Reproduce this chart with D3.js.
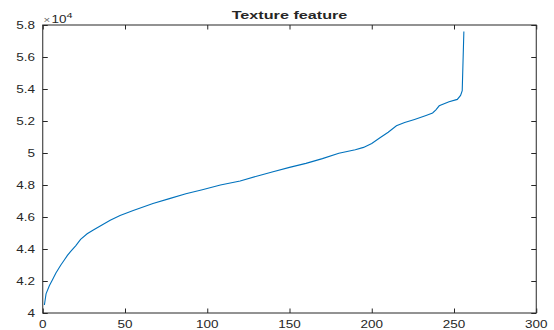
<!DOCTYPE html>
<html>
<head>
<meta charset="utf-8">
<script src="https://cdn.jsdelivr.net/npm/d3@7"></script>
<style>
  body { margin: 0; background: #fff; }
  text { font-family: "Liberation Sans", Arial, Helvetica, sans-serif; fill: #262626; }
</style>
</head>
<body>
<div id="app"></div>
<script>
var svgWidth = 554, svgHeight = 330;
var margin = { top: 25, right: 17.75, bottom: 17, left: 42.75 };
var planeWidth = svgWidth - margin.left - margin.right;
var planeHeight = svgHeight - margin.top - margin.bottom;

// data (index, value)
var xIndex = [1, 2, 4, 6, 8, 11, 13, 15, 17, 20, 23, 27, 31, 36, 41, 47, 55, 67, 77, 87, 97, 108, 120, 130,
              140, 150, 160, 170, 180, 190, 195, 200, 205, 210, 215, 220, 226, 233, 237, 239, 241, 247, 252, 254, 255, 256];
var featureValue = [40500, 41200, 41700, 42100, 42500, 43000, 43300, 43600, 43850, 44200, 44600, 44950, 45200, 45500,
              45800, 46100, 46400, 46850, 47150, 47450, 47700, 48000, 48250, 48550, 48830, 49100, 49350, 49650, 49980,
              50200, 50350, 50600, 50950, 51300, 51700, 51900, 52100, 52350, 52500, 52700, 52950, 53200, 53350, 53600,
              53900, 57600];
var xTicks = [0, 50, 100, 150, 200, 250, 300];
var yTicks = [40000, 42000, 44000, 46000, 48000, 50000, 52000, 54000, 56000, 58000];
var yTickLabels = ["4", "4.2", "4.4", "4.6", "4.8", "5", "5.2", "5.4", "5.6", "5.8"];

var axisColor = "#262626", lineColor = "#0072BD", stretch = 1.35;

var svg = d3.select("#app").append("svg")
    .attr("width", svgWidth)
    .attr("height", svgHeight);

var x = d3.scaleLinear().domain([0, 300]).range([margin.left, margin.left + planeWidth]);
var y = d3.scaleLinear().domain([40000, 58000]).range([margin.top + planeHeight, margin.top]);

// line
var line = d3.line().x(function(d, i) { return x(xIndex[i]); }).y(function(d) { return y(d); });
svg.append("path")
    .datum(featureValue)
    .attr("d", line)
    .attr("fill", "none")
    .attr("stroke", lineColor)
    .attr("stroke-width", 1.1);

// ticks, pointing inside, on all four sides
function tickStyle(g) {
    g.select(".domain").remove();
    g.selectAll("line").attr("stroke", axisColor);
}
svg.append("g").attr("transform", "translate(0," + y.range()[0] + ")")
    .call(d3.axisBottom(x).tickValues(xTicks).tickFormat("").tickSizeInner(-4.5).tickSizeOuter(0)).call(tickStyle);
svg.append("g").attr("transform", "translate(0," + y.range()[1] + ")")
    .call(d3.axisTop(x).tickValues(xTicks).tickFormat("").tickSizeInner(-4.5).tickSizeOuter(0)).call(tickStyle);
svg.append("g").attr("transform", "translate(" + x.range()[0] + ",0)")
    .call(d3.axisLeft(y).tickValues(yTicks).tickFormat("").tickSizeInner(-5).tickSizeOuter(0)).call(tickStyle);
svg.append("g").attr("transform", "translate(" + x.range()[1] + ",0)")
    .call(d3.axisRight(y).tickValues(yTicks).tickFormat("").tickSizeInner(-5).tickSizeOuter(0)).call(tickStyle);

// box
svg.append("rect")
    .attr("x", x.range()[0]).attr("y", y.range()[1])
    .attr("width", planeWidth).attr("height", planeHeight)
    .attr("fill", "none").attr("stroke", axisColor).attr("stroke-width", 1);

// tick labels (text is a bit stretched sideways in the reference)
svg.append("g").selectAll("text").data(xTicks).enter().append("text")
    .attr("transform", function(d) { return "translate(" + x(d) + ",327.5) scale(" + stretch + ",1)"; })
    .attr("text-anchor", "middle")
    .attr("font-size", 10)
    .text(function(d) { return d; });

svg.append("g").selectAll("text").data(yTicks).enter().append("text")
    .attr("transform", function(d) { return "translate(35," + (y(d) + 3.6) + ") scale(" + stretch + ",1)"; })
    .attr("text-anchor", "end")
    .attr("font-size", 10)
    .text(function(d, i) { return yTickLabels[i]; });

// exponent
var expo = svg.append("text")
    .attr("transform", "translate(43.5,22.5) scale(" + stretch + ",1)")
    .attr("font-size", 10);
expo.append("tspan").text("\u00d7").attr("font-size", 8.5).attr("fill", "#666");
expo.append("tspan").text("10").attr("dx", 1);
expo.append("tspan").text("4").attr("font-size", 8).attr("dy", -4.5);

// title
svg.append("text")
    .attr("transform", "translate(" + (margin.left + planeWidth / 2) + ",18.5) scale(1.5,1)")
    .attr("text-anchor", "middle")
    .attr("font-size", 10.8)
    .attr("font-weight", "bold")
    .attr("fill", "#000")
    .text("Texture feature");
</script>
</body>
</html>
